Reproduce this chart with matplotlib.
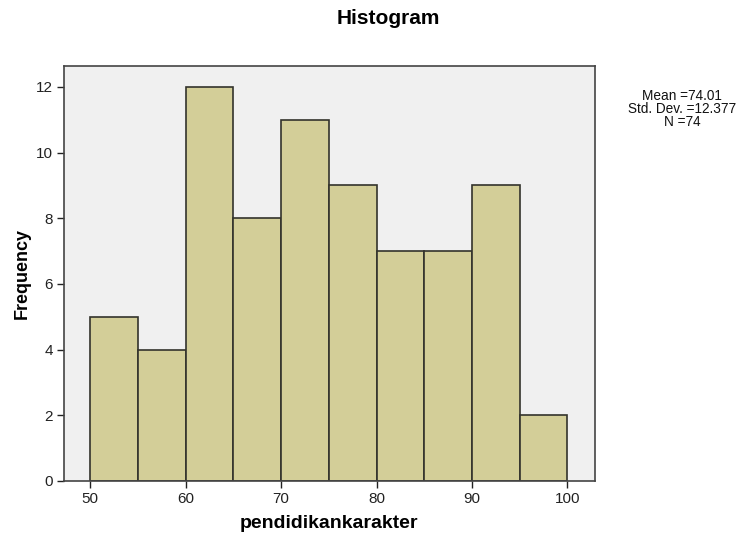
import matplotlib
matplotlib.use("Agg")
import matplotlib.pyplot as plt

plt.rcParams['font.family'] = ['Liberation Sans', 'DejaVu Sans']

# Histogram bin edges and frequencies
bin_edges = [50, 55, 60, 65, 70, 75, 80, 85, 90, 95, 100]
frequencies = [5, 4, 12, 8, 11, 9, 7, 7, 9, 2]
x_ticks = [50, 60, 70, 80, 90, 100]
y_ticks = [0, 2, 4, 6, 8, 10, 12]
stats_text = "Mean =74.01\nStd. Dev. =12.377\nN =74"

fig = plt.figure(figsize=(7.46, 5.38), dpi=100)
ax = fig.add_axes([0.0858, 0.106, 0.7112, 0.772])
ax.set_facecolor('#f0f0f0')

lefts = bin_edges[:-1]
widths = [b - a for a, b in zip(bin_edges[:-1], bin_edges[1:])]
ax.bar(lefts, frequencies, width=widths, align='edge',
       color='#d3ce98', edgecolor='#33332c', linewidth=1.2)

ax.set_xlim(47.25, 102.85)
ax.set_ylim(0, 12.65)
ax.set_xticks(x_ticks)
ax.set_yticks(y_ticks)
ax.tick_params(axis='both', labelsize=11, colors='#222222', length=5, width=1, pad=3)
for s in ax.spines.values():
    s.set_color('#444444')
    s.set_linewidth(1.2)

ax.set_xlabel('pendidikankarakter', fontsize=14, fontweight='bold', va='center')
ax.xaxis.set_label_coords(0.5, -0.1035)
ax.set_ylabel('Frequency', fontsize=13, fontweight='bold', va='center')
ax.yaxis.set_label_coords(-0.079, 0.5)
fig.text(0.52, 0.965, 'Histogram', ha='center', va='center',
         fontsize=15, fontweight='bold')

fig.text(0.914, 0.798, stats_text, ha='center', va='center',
         fontsize=9.8, linespacing=0.9, color='#111111')

fig.savefig('out.png', dpi=100)
